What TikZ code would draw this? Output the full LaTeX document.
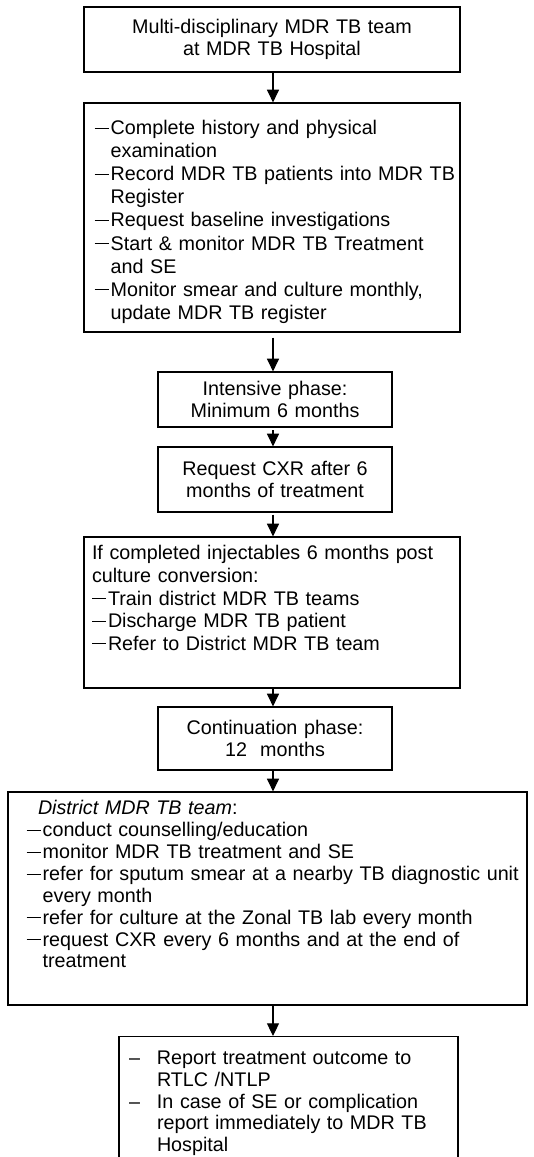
\documentclass[tikz,border=0pt]{standalone}
\usepackage{fontspec}
\setmainfont{Liberation Sans}
\usetikzlibrary{arrows.meta}

% list marks used inside the boxes (continuation lines hang under the text)
\newcommand\dashmark{\rule[4.4pt]{10.5pt}{0.8pt}\hspace{1.5pt}}
\newcommand\dline[1]{\par\hangindent=12pt\hangafter=1\noindent\dashmark#1}
\newcommand\nline[1]{\par\hangindent=21pt\hangafter=1\noindent\makebox[21pt][l]{–}#1}

\tikzset{
  box/.style={draw, line width=0.9pt, inner xsep=0pt, inner ysep=0pt,
    font=\fontsize{14.8}{16.9}\selectfont},
  arr/.style={line width=0.8pt, -{Triangle[length=9.5pt,width=9pt]}},
}

\begin{document}
\begin{tikzpicture}[x=0.75pt,y=-0.75pt]
\useasboundingbox (0,0) rectangle (533,1157);
\clip (0,0) rectangle (533,1157);
\fill[white] (0,0) rectangle (533,1157);

\coordinate (axis) at (273,0);

\node[box, align=center, text width=282pt, minimum height=48.75pt] (b1) at (272,39.5)
  {Multi-disciplinary MDR TB team\\at MDR TB Hospital};

\node[box, align=left, text width=278pt, inner xsep=2pt, minimum height=171.75pt,
      font=\fontsize{14.8}{17.3}\selectfont] (b2) at (272,217.5)
  {\leftskip=6pt
   \dline{\mbox{Complete history and physical}\newline examination}%
   \dline{\mbox{Record MDR TB patients into MDR TB}\newline Register}%
   \dline{\mbox{Request baseline investigations}}%
   \dline{\mbox{Start \& monitor MDR TB Treatment}\newline and SE}%
   \dline{\mbox{Monitor smear and culture monthly,}\newline update MDR TB register}\par};

\node[box, align=center, text width=175.5pt, minimum height=41.25pt] (b3) at (275,399.5)
  {Intensive phase:\\Minimum 6 months};

\node[box, align=center, text width=175.5pt, minimum height=48.75pt] (b4) at (275,479.5)
  {Request CXR after 6\\months of treatment};

\node[box, align=left, text width=270pt, inner xsep=6pt, minimum height=113.25pt] (b5) at (272,612.5)
  {\noindent\mbox{If completed injectables 6 months post}\newline culture conversion:%
   \dline{Train district MDR TB teams}%
   \dline{Discharge MDR TB patient}%
   \dline{Refer to District MDR TB team}%
   \par\strut};

\node[box, align=center, text width=175.5pt, minimum height=47.25pt] (b6) at (275,738.5)
  {Continuation phase:\\12\ \ months};

\node[box, align=left, text width=389.25pt, minimum height=159.75pt,
      font=\fontsize{14.8}{16.4}\selectfont] (b7) at (267.5,898.5)
  {\leftskip=14pt
   \noindent\hspace*{8.5pt}\textit{District MDR TB team}:%
   \dline{conduct counselling/education}%
   \dline{monitor MDR TB treatment and SE}%
   \dline{\mbox{refer for sputum smear at a nearby TB diagnostic unit}\newline every month}%
   \dline{\mbox{refer for culture at the Zonal TB lab every month}}%
   \dline{\mbox{request CXR every 6 months and at the end of}\newline treatment}%
   \par\strut};

\node[box, align=left, text width=239.25pt, inner xsep=7.5pt, inner ysep=5pt, anchor=north,
      font=\fontsize{14.8}{16.2}\selectfont] (b8) at (288.5,1036)
  {\nline{Report treatment outcome to\newline RTLC /NTLP}%
   \nline{In case of SE or complication\newline report immediately to MDR TB\newline Hospital}%
   \par\strut};

\draw[arr] (b1.south -| axis) -- (b2.north -| axis);
\draw[arr, shorten <=3.75pt] (b2.south -| axis) -- (b3.north -| axis);
\draw[arr, shorten <=2pt] (b3.south -| axis) -- (b4.north -| axis);
\draw[arr, shorten <=1.5pt] (b4.south -| axis) -- (b5.north -| axis);
\draw[arr] (b5.south -| axis) -- (b6.north -| axis);
\draw[arr] (b6.south -| axis) -- (b7.north -| axis);
\draw[arr] (b7.south -| axis) -- (b8.north -| axis);
\end{tikzpicture}
\end{document}
